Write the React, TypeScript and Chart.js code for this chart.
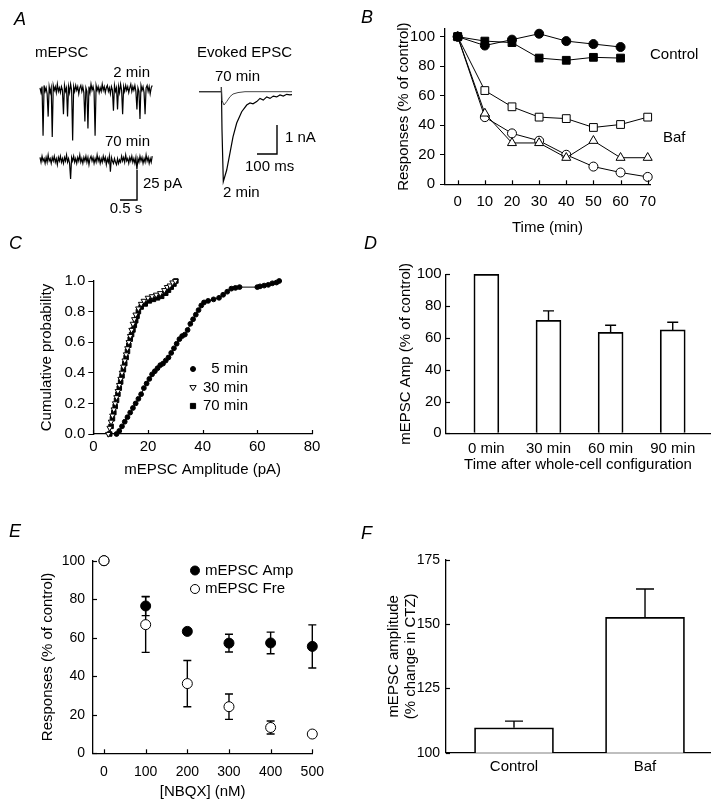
import React, { useEffect, useRef } from "react";
import { Chart, registerables } from "chart.js";

Chart.register(...registerables);

const W = 720;
const H = 809;
const FONT = "'Liberation Sans', Arial, Helvetica, sans-serif";
Chart.defaults.font.family = FONT;
Chart.defaults.color = "#000";

// ---------------- Panel A data ----------------
const mepscDt = 0.03; // s per sample
const mepsc2min = [
  1, -3, 2, -39, 3, -2, 1, -4, -23, 2,
  -3, 1, -40, 3, -1, 2, -3, 4, -2, 1,
  -3, 2, -1, -21, 3, -2, 1, -23, 2, -3,
  4, -1, -43, 2, -2, 3, -1, 2, -4, 1,
  3, -2, 2, -3, -27, 1, -2, -33, 2, -3,
  4, -1, 2, -2, -39, 3, -1, 2, -3, 1,
  -2, 4, -1, 2, -3, 1, 3, -2, 1, -4,
  2, -1, -18, 3, -2, 1, -17, 2, -3, 4,
  -1, -21, 2, -2, 3, -1, 2, -3, 1, 4,
  -2, 2, -1, 3, -2, -17, 1, -2, -25, 3,
  -1, 2, -3, -21, 1, 3, -2, 2, -4, 1, 3,
];
const mepsc70min = [
  2, -2, 3, -1, 1, -3, 2, -2, 4, -1,
  1, -3, 2, -1, 3, -2, 1, -4, 2, -1,
  3, -2, 1, -3, 2, -1, 4, -2, 1, -3,
  -16, 2, -1, 3, -2, 1, -3, 2, -1, 4,
  -2, 1, -3, 2, -1, 3, -2, 2, -4, 1,
  3, -1, 2, -3, 1, -2, 4, -1, 2, -3,
  1, -2, 3, -1, 2, -4, 1, -2, 3, -10,
  2, -1, -3, 1, -2, -4, 1, -3, 0, -2,
  3, -1, 2, -2, 4, -1, 1, -3, 2, -1,
  3, -2, 1, -3, 2, -8, 1, -2, 3, -1,
  2, -3, 1, -2, 4, -1, 2, -3, 1, -2, 3,
];
const mepscScaleBar = { s: 0.5, pA: 25 };

const evoked2minT = [0, 110, 112, 115, 121.5, 138.5, 155, 170, 188.5, 213.5, 238.5, 255, 270, 288.5, 305, 321.5, 338.5, 355, 371.5, 388.5, 405, 421.5, 438.5, 455, 465];
const evoked2minI = [0, 0, 0.16, -1.32, -3.1, -2.7, -2.11, -1.56, -1.08, -0.69, -0.46, -0.39, -0.42, -0.34, -0.23, -0.29, -0.18, -0.23, -0.15, -0.18, -0.11, -0.15, -0.09, -0.11, -0.1];
const evoked70minT = [0, 110, 112, 115, 125, 138.5, 155, 170, 195, 230, 465];
const evoked70minI = [0, 0, 0.16, -0.3, -0.46, -0.34, -0.17, -0.08, -0.03, 0, 0];
const evokedScaleBar = { ms: 100, nA: 1 };

// ---------------- Panel B data ----------------
const bTime = [0, 10, 20, 30, 40, 50, 60, 70];
const bControlCircle = [100, 94, 98, 102, 97, 95, 93];
const bControlSquare = [100, 97, 96, 85.5, 84, 86, 85.5];
const bBafSquare = [100, 63.5, 52.5, 45.5, 44.5, 38.5, 40.5, 45.5];
const bBafTriangle = [100, 48, 28, 28, 18, 29.5, 18, 18];
const bBafCircle = [100, 45.5, 34.5, 29.5, 20, 12, 8, 5];

// ---------------- Panel C data ----------------
const c5Amp = [8.5, 9.5, 10.5, 11.5, 12.5, 13.5, 14.5, 15.5, 16.5, 17.5, 18.5, 19.5, 20.5, 21.5, 22.5, 23.5, 24.5, 25.5, 26.5, 27.5, 28.5, 29.5, 30.5, 31.5, 32.5, 33.5, 34.5, 35.5, 36.5, 37.5, 38.5, 39.5, 40.5, 42, 44, 46, 47.5, 49, 50.5, 52, 53.5, 60, 61, 62.5, 64, 65.5, 67, 68];
const c5Prob = [0, 0.02, 0.05, 0.08, 0.11, 0.14, 0.17, 0.2, 0.23, 0.26, 0.3, 0.33, 0.36, 0.39, 0.41, 0.43, 0.45, 0.46, 0.48, 0.5, 0.53, 0.56, 0.59, 0.62, 0.64, 0.65, 0.68, 0.72, 0.75, 0.78, 0.81, 0.84, 0.86, 0.87, 0.88, 0.89, 0.91, 0.93, 0.95, 0.955, 0.96, 0.96, 0.965, 0.97, 0.975, 0.985, 0.99, 1.0];
const c30Amp = [5.5, 6, 6.5, 7, 7.5, 8, 8.5, 9, 9.5, 10, 10.5, 11, 11.5, 12, 12.5, 13, 13.5, 14, 14.5, 15, 15.5, 16.5, 17.5, 18.5, 20, 21.5, 23, 24.5, 26, 27, 28, 29, 30];
const c30Prob = [0, 0.04, 0.08, 0.12, 0.16, 0.2, 0.24, 0.28, 0.32, 0.36, 0.4, 0.44, 0.48, 0.52, 0.56, 0.6, 0.64, 0.68, 0.72, 0.75, 0.78, 0.82, 0.85, 0.87, 0.89, 0.9, 0.91, 0.92, 0.94, 0.96, 0.97, 0.99, 1.0];
const c70Amp = [6, 6.5, 7, 7.5, 8, 8.5, 9, 9.5, 10, 10.5, 11, 11.5, 12, 12.5, 13, 13.5, 14, 14.5, 15, 15.5, 16, 16.5, 17.5, 19, 20.5, 22, 23.5, 25, 26.5, 27.5, 28.5, 29.5, 30.2];
const c70Prob = [0, 0.05, 0.1, 0.14, 0.18, 0.22, 0.26, 0.3, 0.34, 0.38, 0.42, 0.46, 0.5, 0.54, 0.58, 0.62, 0.65, 0.68, 0.71, 0.74, 0.77, 0.8, 0.83, 0.85, 0.87, 0.88, 0.89, 0.9, 0.92, 0.94, 0.96, 0.98, 1.0];
const cLegend = ["5 min", "30 min", "70 min"];

// ---------------- Panel D data ----------------
const dCategories = ["0 min", "30 min", "60 min", "90 min"];
const dValues = [100, 71, 63.5, 65];
const dErrors = [0, 6, 4.5, 4.8];

// ---------------- Panel E data ----------------
const eConc = [0, 100, 200, 300, 400, 500];
const eAmp = [100, 76.5, 63.3, 57.2, 57.3, 55.5];
const eAmpErr = [0, 5, 1, 4.6, 5.6, 11.2];
const eFre = [100, 66.8, 36.2, 24.2, 13.4, 10];
const eFreErr = [0, 14.4, 12, 6.6, 3.4, 0.8];
const eLegend = ["mEPSC Amp", "mEPSC Fre"];

// ---------------- Panel F data ----------------
const fCategories = ["Control", "Baf"];
const fValues = [109.7, 152.7];
const fErrors = [2.6, 11];

// ---------------- helpers ----------------
type Area = { l: number; t: number; r: number; b: number };
type TextItem = { text: string; x: number; y: number; align?: CanvasTextAlign; size?: number; style?: string };

const pts = (xs: number[], ys: number[]) => ys.map((y, i) => ({ x: xs[i], y }));

function framePadding(a: Area, yw: number, xh: number) {
  return { left: a.l - yw, top: a.t, right: W - a.r, bottom: H - a.b - xh };
}

function zeroPad(s: any) {
  s.paddingTop = 0;
  s.paddingBottom = 0;
  s.paddingLeft = 0;
  s.paddingRight = 0;
}

function axis(o: {
  pos: "left" | "bottom";
  min: number;
  max: number;
  step: number;
  size: number;
  pad: number;
  outTick?: number;
  tickSize?: number;
  title?: string | string[];
  titleSize?: number;
  titleLH?: number;
  fmt?: (v: number) => string;
}) {
  return {
    type: "linear",
    position: o.pos,
    min: o.min,
    max: o.max,
    offset: false,
    ticks: {
      stepSize: o.step,
      includeBounds: false,
      padding: o.pad,
      color: "#000",
      maxRotation: 0,
      autoSkip: false,
      font: { size: o.tickSize || 15, family: FONT },
      callback: o.fmt ? (v: any) => o.fmt!(Number(v)) : (v: any) => String(v),
    },
    grid: {
      display: true,
      offset: false,
      drawOnChartArea: false,
      drawTicks: !!o.outTick,
      tickLength: o.outTick || 0,
      color: "#000",
      lineWidth: 1,
    },
    border: { display: true, color: "#000", width: 1.3 },
    title: o.title
      ? {
          display: true,
          text: o.title,
          color: "#000",
          padding: 0,
          font: { size: o.titleSize || 15, family: FONT, lineHeight: o.titleLH || 1.2 },
        }
      : { display: false },
    afterFit: (s: any) => {
      if (o.pos === "left") s.width = o.size;
      else s.height = o.size;
      zeroPad(s);
    },
  };
}

function baseOptions(padding: any, scales: any) {
  return {
    responsive: false,
    maintainAspectRatio: false,
    animation: false,
    devicePixelRatio: 1,
    events: [],
    layout: { autoPadding: false, padding },
    plugins: { legend: { display: false }, tooltip: { enabled: false }, title: { display: false } },
    scales,
  };
}

function textPlugin(id: string, items: TextItem[]) {
  return {
    id,
    afterDraw(chart: any) {
      const ctx = chart.ctx;
      items.forEach((it) => {
        ctx.save();
        ctx.font = `${it.style || ""} ${it.size || 15}px ${FONT}`;
        ctx.fillStyle = "#000";
        ctx.textAlign = it.align || "left";
        ctx.textBaseline = "middle";
        ctx.fillText(it.text, it.x, it.y);
        ctx.restore();
      });
    },
  };
}

function inTicksPlugin(id: string, xLen: number, yLen: number) {
  return {
    id,
    afterDraw(chart: any) {
      const { ctx, chartArea } = chart;
      ctx.save();
      ctx.strokeStyle = "#000";
      ctx.lineWidth = 1.2;
      if (xLen) {
        const s = chart.scales.x;
        s.ticks.forEach((t: any) => {
          const px = Math.round(s.getPixelForValue(t.value)) + 0.5;
          ctx.beginPath();
          ctx.moveTo(px, chartArea.bottom);
          ctx.lineTo(px, chartArea.bottom - xLen);
          ctx.stroke();
        });
      }
      if (yLen) {
        const s = chart.scales.y;
        s.ticks.forEach((t: any) => {
          const py = Math.round(s.getPixelForValue(t.value)) + 0.5;
          ctx.beginPath();
          ctx.moveTo(chartArea.left, py);
          ctx.lineTo(chartArea.left + yLen, py);
          ctx.stroke();
        });
      }
      ctx.restore();
    },
  };
}

function errorBarPlugin(id: string, cap: number, after = false) {
  const draw = (chart: any) => {
    const ctx = chart.ctx;
    const ys = chart.scales.y;
    chart.data.datasets.forEach((ds: any, di: number) => {
      if (!ds.errUp) return;
      const meta = chart.getDatasetMeta(di);
      meta.data.forEach((el: any, i: number) => {
        const v = ds.data[i].y;
        const up = ds.errUp[i] || 0;
        const dn = ds.errDown ? ds.errDown[i] || 0 : 0;
        if (!up && !dn) return;
        const x = el.x;
        const yTop = ys.getPixelForValue(v + up);
        const yBot = ys.getPixelForValue(v - dn);
        ctx.save();
        ctx.strokeStyle = "#000";
        ctx.lineWidth = 1.4;
        ctx.beginPath();
        ctx.moveTo(x, yTop);
        ctx.lineTo(x, yBot);
        if (up) {
          ctx.moveTo(x - cap / 2, yTop);
          ctx.lineTo(x + cap / 2, yTop);
        }
        if (dn) {
          ctx.moveTo(x - cap / 2, yBot);
          ctx.lineTo(x + cap / 2, yBot);
        }
        ctx.stroke();
        ctx.restore();
      });
    });
  };
  return after ? { id, afterDatasetsDraw: draw } : { id, beforeDatasetsDraw: draw };
}

function drawMarker(ctx: CanvasRenderingContext2D, kind: string, x: number, y: number, r: number) {
  ctx.save();
  ctx.lineWidth = 1;
  ctx.strokeStyle = "#000";
  ctx.beginPath();
  if (kind.startsWith("circle")) ctx.arc(x, y, r, 0, Math.PI * 2);
  else if (kind.startsWith("square")) ctx.rect(x - r, y - r, 2 * r, 2 * r);
  else {
    ctx.moveTo(x - r, y - r * 0.6);
    ctx.lineTo(x + r, y - r * 0.6);
    ctx.lineTo(x, y + r);
    ctx.closePath();
  }
  ctx.fillStyle = kind.endsWith("Filled") ? "#000" : "#fff";
  ctx.fill();
  ctx.stroke();
  ctx.restore();
}

function legendPlugin(id: string, rows: { kind: string; r: number; mx: number; y: number; text: string; tx: number; align: CanvasTextAlign; size: number }[]) {
  return {
    id,
    afterDraw(chart: any) {
      const ctx = chart.ctx;
      rows.forEach((row) => {
        drawMarker(ctx, row.kind, row.mx, row.y, row.r);
        ctx.save();
        ctx.font = `${row.size}px ${FONT}`;
        ctx.fillStyle = "#000";
        ctx.textAlign = row.align;
        ctx.textBaseline = "middle";
        ctx.fillText(row.text, row.tx, row.y);
        ctx.restore();
      });
    },
  };
}

function markerSeries(xs: number[], ys: number[], style: string, filled: boolean, radius: number, extra: any = {}) {
  return {
    data: pts(xs, ys),
    borderColor: "#000",
    borderWidth: 1,
    pointStyle: style,
    pointRadius: radius,
    pointBackgroundColor: filled ? "#000" : "#fff",
    pointBorderColor: "#000",
    pointBorderWidth: 1,
    tension: 0,
    fill: false,
    clip: false,
    ...extra,
  };
}

function traceSeries(data: { x: number; y: number }[], color = "#000", width = 1) {
  return { data, borderColor: color, borderWidth: width, pointRadius: 0, tension: 0, fill: false, clip: false };
}

function barSeries(xs: number[], ys: number[], errs: number[], thickness: number) {
  return {
    data: pts(xs, ys),
    errUp: errs,
    backgroundColor: "#fff",
    borderColor: "#000",
    borderWidth: 1.7,
    borderSkipped: "start",
    barThickness: thickness,
    clip: { left: 0, right: 0, top: 6, bottom: 0 },
  };
}

// ---------------- Panel A ----------------
function configMepsc() {
  const area: Area = { l: 40, t: 60, r: 152.9, b: 220 };
  const yMax = 24.17;
  const yMin = -109.17;
  const offset70 = -59; // vertical display offset of the 70 min sweep
  const sbT = 2.853;
  const sbY = -92.5;
  const t = (i: number) => i * mepscDt;
  return {
    type: "line",
    data: {
      datasets: [
        traceSeries(mepsc2min.map((v, i) => ({ x: t(i), y: v })), "#000", 1.2),
        traceSeries(mepsc70min.map((v, i) => ({ x: t(i), y: v + offset70 })), "#000", 1.2),
        traceSeries(
          [
            { x: sbT - mepscScaleBar.s, y: sbY },
            { x: sbT, y: sbY },
            { x: sbT, y: sbY + mepscScaleBar.pA },
          ],
          "#000",
          1.4
        ),
      ],
    },
    options: baseOptions(
      { left: area.l, top: area.t, right: W - area.r, bottom: H - area.b },
      {
        x: { type: "linear", display: false, min: 0, max: 3.32 },
        y: { type: "linear", display: false, min: yMin, max: yMax },
      }
    ),
    plugins: [
      textPlugin("txtA1", [
        { text: "mEPSC", x: 35, y: 52.5 },
        { text: "2 min", x: 150, y: 72.5, align: "right" },
        { text: "70 min", x: 150, y: 142, align: "right" },
        { text: "25 pA", x: 143, y: 184 },
        { text: "0.5 s", x: 126, y: 208.5, align: "center" },
      ]),
    ],
  };
}

function configEvoked() {
  const area: Area = { l: 199, t: 60, r: 292, b: 200 };
  const sbT = 390;
  const sbY = -2.15;
  return {
    type: "line",
    data: {
      datasets: [
        traceSeries(pts(evoked70minT, evoked70minI), "#444", 1),
        traceSeries(pts(evoked2minT, evoked2minI), "#000", 1.2),
        traceSeries(
          [
            { x: sbT - evokedScaleBar.ms, y: sbY },
            { x: sbT, y: sbY },
            { x: sbT, y: sbY + evokedScaleBar.nA },
          ],
          "#000",
          1.4
        ),
      ],
    },
    options: baseOptions(
      { left: area.l, top: area.t, right: W - area.r, bottom: H - area.b },
      {
        x: { type: "linear", display: false, min: 0, max: 465 },
        y: { type: "linear", display: false, min: -3.734, max: 1.093 },
      }
    ),
    plugins: [
      textPlugin("txtA2", [
        { text: "Evoked EPSC", x: 197, y: 52.5 },
        { text: "70 min", x: 215, y: 77 },
        { text: "1 nA", x: 285, y: 138 },
        { text: "100 ms", x: 245, y: 166.5 },
        { text: "2 min", x: 223, y: 193 },
      ]),
    ],
  };
}

// ---------------- Panel B ----------------
function configB() {
  const area: Area = { l: 445, t: 29, r: 650, b: 184.3 };
  const yw = 50;
  const xh = 52.7;
  return {
    type: "line",
    data: {
      datasets: [
        markerSeries(bTime, bControlCircle, "circle", true, 4.5),
        markerSeries(bTime, bControlSquare, "rect", true, 5.5),
        markerSeries(bTime, bBafSquare, "rect", false, 5.5),
        markerSeries(bTime, bBafTriangle, "triangle", false, 5.2),
        markerSeries(bTime, bBafCircle, "circle", false, 4.5),
      ],
    },
    options: baseOptions(framePadding(area, yw, xh), {
      x: axis({ pos: "bottom", min: -4.68, max: 70.85, step: 10, size: xh, pad: 8.7, title: "Time (min)" }),
      y: axis({ pos: "left", min: 0, max: 105.2, step: 20, size: yw, pad: 5, outTick: 5, title: "Responses (% of control)" }),
    }),
    plugins: [
      inTicksPlugin("inTicksB", 4, 0),
      textPlugin("txtB", [
        { text: "Control", x: 650, y: 55 },
        { text: "Baf", x: 663, y: 138 },
      ]),
    ],
  };
}

// ---------------- Panel C ----------------
function configC() {
  const area: Area = { l: 93.3, t: 281, r: 312, b: 434 };
  const yw = 55.3;
  const xh = 45;
  return {
    type: "line",
    data: {
      datasets: [
        markerSeries(c5Amp, c5Prob, "circle", true, 2.4),
        markerSeries(c30Amp, c30Prob, "triangle", false, 3.2, { pointRotation: 180 }),
        markerSeries(c70Amp, c70Prob, "rect", true, 3.2),
      ],
    },
    options: baseOptions(framePadding(area, yw, xh), {
      x: axis({ pos: "bottom", min: 0, max: 80, step: 20, size: xh, pad: 4, title: "mEPSC Amplitude (pA)" }),
      y: axis({
        pos: "left",
        min: 0,
        max: 1,
        step: 0.2,
        size: yw,
        pad: 3,
        outTick: 5,
        title: "Cumulative probability",
        fmt: (v) => v.toFixed(1),
      }),
    }),
    plugins: [
      inTicksPlugin("inTicksC", 4, 0),
      legendPlugin("legC", [
        { kind: "circleFilled", r: 2.5, mx: 193, y: 369, text: cLegend[0], tx: 248, align: "right", size: 15 },
        { kind: "triOpen", r: 3.2, mx: 193, y: 387.5, text: cLegend[1], tx: 248, align: "right", size: 15 },
        { kind: "squareFilled", r: 2.6, mx: 193, y: 406, text: cLegend[2], tx: 248, align: "right", size: 15 },
      ]),
    ],
  };
}

// ---------------- Panel D ----------------
function configD() {
  const area: Area = { l: 446, t: 274.3, r: 710, b: 433.3 };
  const yw = 49;
  const xh = 40.7;
  return {
    type: "bar",
    data: { datasets: [barSeries([0, 1, 2, 3], dValues, dErrors, 25)] },
    options: baseOptions(framePadding(area, yw, xh), {
      x: axis({
        pos: "bottom",
        min: -0.65,
        max: 3.6,
        step: 1,
        size: xh,
        pad: 6.7,
        title: "Time after whole-cell configuration",
        fmt: (v) => dCategories[v] ?? "",
      }),
      y: axis({ pos: "left", min: 0, max: 100, step: 20, size: yw, pad: 4.3, title: "mEPSC Amp (% of control)" }),
    }),
    plugins: [inTicksPlugin("inTicksD", 0, 4), errorBarPlugin("errD", 11, true)],
  };
}

// ---------------- Panel E ----------------
function configE() {
  const area: Area = { l: 93, t: 560.7, r: 312.3, b: 753.3 };
  const yw = 54.5;
  const xh = 47.7;
  return {
    type: "line",
    data: {
      datasets: [
        markerSeries(eConc, eFre, "circle", false, 5, { showLine: false, errUp: eFreErr, errDown: eFreErr }),
        markerSeries(eConc, eAmp, "circle", true, 5, { showLine: false, errUp: eAmpErr, errDown: eAmpErr }),
      ],
    },
    options: baseOptions(framePadding(area, yw, xh), {
      x: axis({ pos: "bottom", min: -26.4, max: 500, step: 100, size: xh, pad: 10.3, tickSize: 14, title: "[NBQX] (nM)" }),
      y: axis({ pos: "left", min: 0, max: 100, step: 20, size: yw, pad: 8, tickSize: 14, title: "Responses (% of control)" }),
    }),
    plugins: [
      inTicksPlugin("inTicksE", 4, 4),
      errorBarPlugin("errE", 8),
      legendPlugin("legE", [
        { kind: "circleFilled", r: 4.5, mx: 195, y: 570.5, text: eLegend[0], tx: 205, align: "left", size: 15 },
        { kind: "circleOpen", r: 4.5, mx: 195, y: 589, text: eLegend[1], tx: 205, align: "left", size: 15 },
      ]),
    ],
  };
}

// ---------------- Panel F ----------------
function configF() {
  const area: Area = { l: 446, t: 560, r: 710, b: 752.7 };
  const yw = 60.25;
  const xh = 30;
  return {
    type: "bar",
    data: { datasets: [barSeries([0, 1], fValues, fErrors, 79)] },
    options: baseOptions(framePadding(area, yw, xh), {
      x: axis({
        pos: "bottom",
        min: -0.519,
        max: 1.496,
        step: 1,
        size: xh,
        pad: 5.3,
        fmt: (v) => fCategories[v] ?? "",
      }),
      y: axis({
        pos: "left",
        min: 100,
        max: 175,
        step: 25,
        size: yw,
        pad: 6,
        tickSize: 14,
        title: ["mEPSC amplitude", "(% change in CTZ)"],
        titleLH: 1.1,
      }),
    }),
    plugins: [inTicksPlugin("inTicksF", 0, 4), errorBarPlugin("errF", 18, true)],
  };
}

function ChartLayer({ make }: { make: () => any }) {
  const ref = useRef<HTMLCanvasElement>(null);
  useEffect(() => {
    const chart = new Chart(ref.current as HTMLCanvasElement, make());
    return () => chart.destroy();
  }, []);
  return (
    <canvas
      ref={ref}
      width={W}
      height={H}
      style={{ position: "absolute", left: 0, top: 0, width: W, height: H }}
    />
  );
}

const panelLetters = [
  { t: "A", x: 14, y: 18.3 },
  { t: "B", x: 361, y: 17 },
  { t: "C", x: 9, y: 243 },
  { t: "D", x: 364, y: 243 },
  { t: "E", x: 9, y: 531 },
  { t: "F", x: 361, y: 533 },
];

export default function App() {
  const makers = [configMepsc, configEvoked, configB, configC, configD, configE, configF];
  return (
    <div
      style={{
        position: "absolute",
        left: 0,
        top: 0,
        width: W,
        height: H,
        background: "#fff",
        overflow: "hidden",
        fontFamily: FONT,
      }}
    >
      {makers.map((m, i) => (
        <ChartLayer key={i} make={m} />
      ))}
      {panelLetters.map((p) => (
        <span
          key={p.t}
          style={{
            position: "absolute",
            left: p.x,
            top: p.y - 8.8,
            fontSize: 18,
            lineHeight: 1,
            fontStyle: "italic",
            fontFamily: FONT,
            color: "#000",
          }}
        >
          {p.t}
        </span>
      ))}
    </div>
  );
}
